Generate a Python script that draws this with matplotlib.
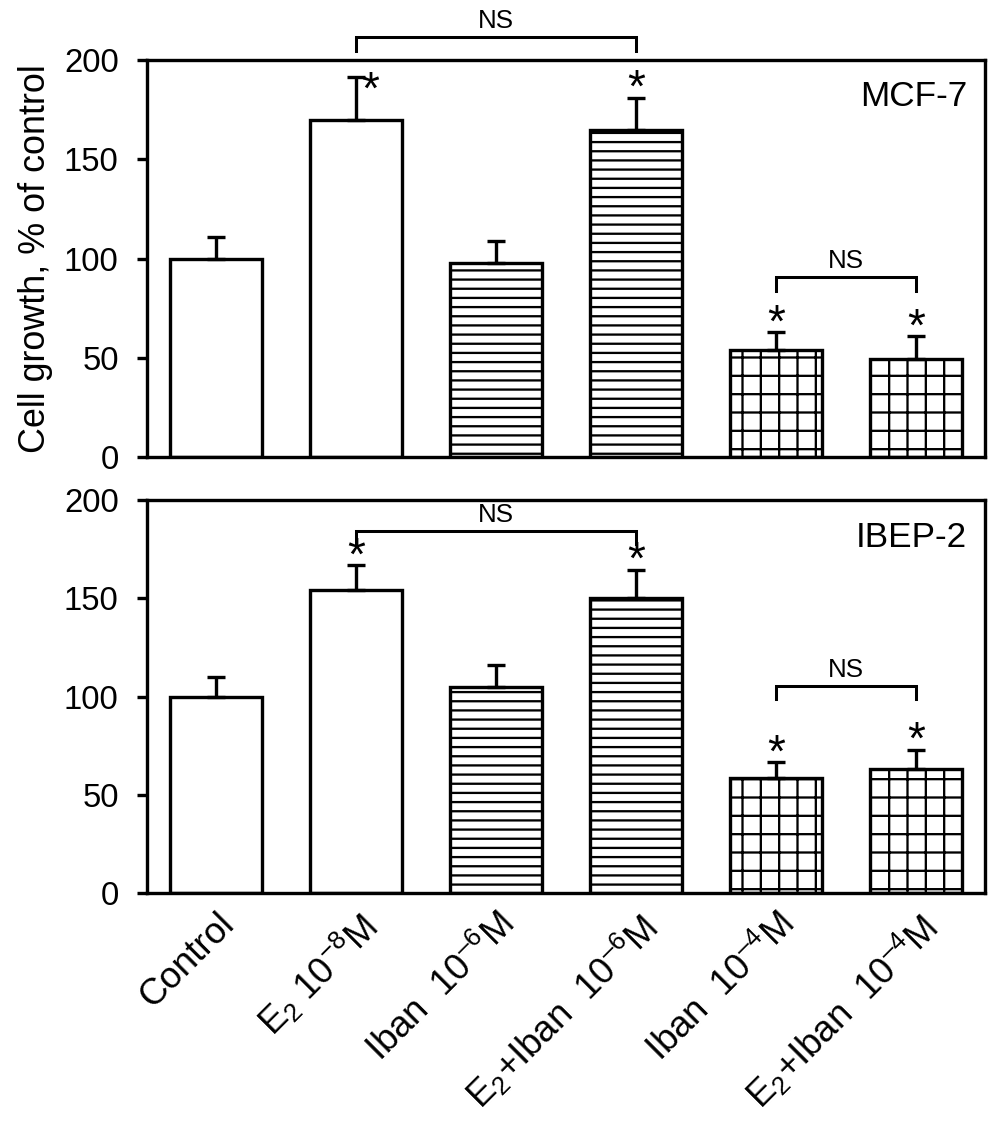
import numpy as np
import matplotlib
matplotlib.use("Agg")
import matplotlib.pyplot as plt

plt.rcParams['font.family'] = ['Liberation Sans', 'DejaVu Sans']
plt.rcParams['mathtext.fontset'] = 'custom'
plt.rcParams['mathtext.rm'] = 'Liberation Sans'
plt.rcParams['mathtext.it'] = 'Liberation Sans'
plt.rcParams['hatch.linewidth'] = 1.5

categories = ['Control', r'$\mathregular{E_2\ 10^{-8}M}$', r'$\mathregular{Iban\ \ 10^{–6}M}$',
              r'$\mathregular{E_2{+}Iban\ \ 10^{–6}M}$', r'$\mathregular{Iban\ \ 10^{–4}M}$',
              r'$\mathregular{E_2{+}Iban\ \ 10^{–4}M}$']
hatches = ['', '', '--', '--', '+', '+']

mcf7_mean = [100, 170, 97.5, 164.5, 54, 49.5]
mcf7_err = [11, 21.5, 11.5, 16.5, 9, 11.5]
mcf7_star = [False, True, False, True, True, True]

ibep2_mean = [100, 154, 105, 150, 58.5, 63]
ibep2_err = [10, 13, 11, 14.5, 8, 10]
ibep2_star = [False, True, False, True, True, True]

yticks = [0, 50, 100, 150, 200]
panel_names = ['MCF-7', 'IBEP-2']
ylabel = 'Cell growth, % of control'

# NS brackets: (left bar, right bar, bracket y, leg bottom y)
mcf7_ns = [(1, 3, 211.5, 204.5), (4, 5, 90.5, 83.5)]
ibep2_ns = [(1, 3, 184.5, 177.5), (4, 5, 105.5, 98.5)]

dpi = 110
fig = plt.figure(figsize=(1004 / dpi, 1124 / dpi), dpi=dpi)
ax1 = fig.add_axes([0.1464, 0.5934, 0.8347, 0.3532])
ax2 = fig.add_axes([0.1464, 0.2055, 0.8347, 0.3496])

x = np.arange(len(categories))
lw = 2.2

def draw(ax, means, errs, stars, ns, name, name_y, side_star):
    means = np.array(means)
    errs = np.array(errs)
    for xi, m, h in zip(x, means, hatches):
        ax.bar(xi, m, width=0.66, color='white', edgecolor='black', linewidth=lw,
               hatch=h if h else None, zorder=2)
    ax.errorbar(x, means, yerr=[np.zeros_like(errs), errs], fmt='none', ecolor='black',
                elinewidth=lw, capsize=6, capthick=lw, zorder=3)
    for xi, m, e, s, side in zip(x, means, errs, stars, side_star):
        if s:
            off = (9.5, -10) if side else (0, 5)
            ax.annotate('*', xy=(xi, m + e), xytext=off, textcoords='offset points',
                        ha='center', va='center', fontsize=30)
    for a, b, yb, yl in ns:
        ax.plot([x[a], x[a], x[b], x[b]], [yl, yb, yb, yl], color='black', lw=lw * 0.9,
                clip_on=False, solid_joinstyle='miter')
        ax.text((x[a] + x[b]) / 2, yb + 2, 'NS', ha='center', va='bottom', fontsize=17)
    ax.set_ylim(0, 200)
    ax.set_xlim(-0.493, 5.493)
    ax.set_yticks(yticks)
    ax.tick_params(axis='y', direction='out', length=6.5, width=lw, labelsize=21.5, pad=12)
    ax.tick_params(axis='x', length=0)
    for sp in ax.spines.values():
        sp.set_linewidth(lw)
    ax.text(0.9785, name_y, name, transform=ax.transAxes, ha='right', va='center', fontsize=23)

draw(ax1, mcf7_mean, mcf7_err, mcf7_star, mcf7_ns, panel_names[0], 0.907,
     [False, True, False, False, False, False])
draw(ax2, ibep2_mean, ibep2_err, ibep2_star, ibep2_ns, panel_names[1], 0.906,
     [False] * 6)

ax1.set_xticks(x)
ax1.set_xticklabels([])
ax1.set_ylabel(ylabel, fontsize=23.5, labelpad=7)
ax2.set_xticks(x)
ax2.set_xticklabels(categories, rotation=45, ha='right', va='top', rotation_mode='anchor',
                    fontsize=24)
ax2.tick_params(axis='x', pad=9)

fig.savefig('out.png', dpi=dpi, facecolor='white')
